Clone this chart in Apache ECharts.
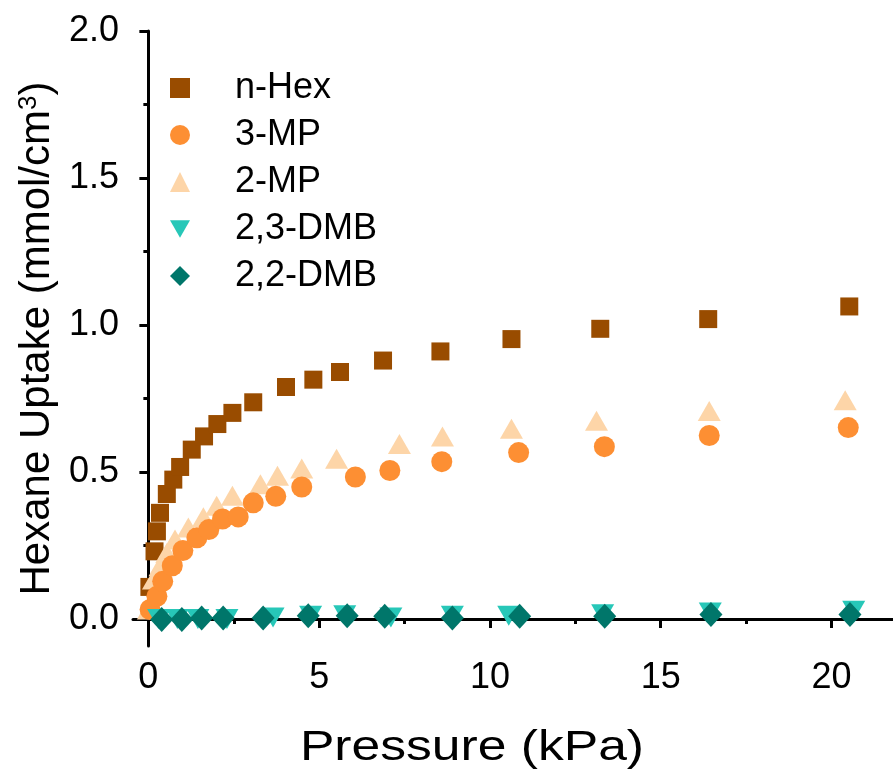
<!DOCTYPE html>
<html>
<head>
<meta charset="utf-8">
<script src="https://cdn.jsdelivr.net/npm/echarts@6/dist/echarts.min.js"></script>
<style>html,body{margin:0;padding:0;background:#fff}#c{width:893px;height:776px}</style>
</head>
<body>
<div id="c"></div>
<script>
// ---- data ----
var nHexP = [0.03, 0.18, 0.25, 0.34, 0.54, 0.73, 0.93, 1.27, 1.63, 2.02, 2.46, 3.07, 4.03, 4.83, 5.61, 6.87, 8.55, 10.63, 13.23, 16.39, 20.52];
var nHexV = [0.109, 0.230, 0.298, 0.361, 0.425, 0.474, 0.517, 0.576, 0.621, 0.663, 0.701, 0.737, 0.789, 0.814, 0.840, 0.879, 0.910, 0.952, 0.987, 1.020, 1.063];

var mp3P = [0.05, 0.25, 0.42, 0.70, 1.01, 1.42, 1.77, 2.17, 2.63, 3.07, 3.73, 4.49, 6.06, 7.07, 8.59, 10.84, 13.35, 16.42, 20.49];
var mp3V = [0.032, 0.077, 0.128, 0.181, 0.233, 0.276, 0.304, 0.340, 0.347, 0.395, 0.417, 0.449, 0.483, 0.505, 0.535, 0.566, 0.586, 0.624, 0.651];

var mp2P = [0.0, 0.15, 0.34, 0.54, 0.78, 1.17, 1.61, 2.0, 2.46, 3.28, 3.78, 4.49, 5.51, 7.35, 8.61, 10.63, 13.12, 16.42, 20.4];
var mp2V = [0.032, 0.134, 0.179, 0.224, 0.270, 0.311, 0.346, 0.385, 0.419, 0.458, 0.487, 0.512, 0.545, 0.595, 0.621, 0.647, 0.674, 0.707, 0.744];

var dmb23P = [0.3, 0.85, 1.45, 2.3, 3.65, 4.75, 5.75, 7.1, 8.9, 10.55, 13.3, 16.45, 20.65];
var dmb23V = [0.0, 0.0, 0.0, 0.0, 0.005, 0.011, 0.013, 0.005, 0.011, 0.011, 0.016, 0.022, 0.028];

var dmb22P = [0.39, 0.98, 1.56, 2.19, 3.36, 4.68, 5.82, 6.92, 8.9, 10.87, 13.36, 16.47, 20.54];
var dmb22V = [-0.002, -0.002, 0.003, 0.003, 0.003, 0.011, 0.011, 0.009, 0.003, 0.009, 0.009, 0.015, 0.015];

var xMajor = [0, 5, 10, 15, 20];
var xMinor = [2.5, 7.5, 12.5, 17.5];
var yMajor = [0, 0.5, 1.0, 1.5, 2.0];
var yMinor = [0.25, 0.75, 1.25, 1.75];

var names = ['n-Hex', '3-MP', '2-MP', '2,3-DMB', '2,2-DMB'];
var xTitle = 'Pressure (kPa)';

function pairs(xs, ys) { return xs.map(function (x, i) { return [x, ys[i]]; }); }

var FONT = 'Liberation Sans, Arial, sans-serif';
var chart = echarts.init(document.getElementById('c'), null, {renderer: 'canvas'});

var xBase = {min: -0.45, max: 21.8, type: 'value', position: 'bottom', splitLine: {show: false}};
var yBase = {min: -0.092, max: 2.0, type: 'value', position: 'left', splitLine: {show: false}};

chart.setOption({
  animation: false,
  backgroundColor: '#fff',
  grid: {left: 133, right: 0, top: 31, bottom: 130, outerBoundsMode: 'none', containLabel: false},
  legend: {
    orient: 'vertical', left: 165, top: 65,
    itemWidth: 20, itemHeight: 20, itemGap: 11,
    symbolKeepAspect: true,
    data: names,
    textStyle: {fontFamily: FONT, fontSize: 36, color: '#000', padding: [0, 0, 0, 40]}
  },
  graphic: [{
    type: 'text', x: 472, y: 748, scaleX: 1.2,
    style: {text: xTitle, fontFamily: FONT, fontSize: 43, fill: '#000', align: 'center', verticalAlign: 'middle'}
  }],
  xAxis: [
    Object.assign({}, xBase, {
      axisLine: {show: true, lineStyle: {color: '#000', width: 3}},
      axisTick: {show: true, customValues: xMajor, length: 9, lineStyle: {color: '#000', width: 3}},
      axisLabel: {customValues: xMajor, color: '#000', fontFamily: FONT, fontSize: 36, margin: 14}
    }),
    Object.assign({}, xBase, {
      axisLine: {show: false},
      axisTick: {show: true, customValues: xMinor, length: 5, lineStyle: {color: '#000', width: 3}},
      axisLabel: {show: false}
    })
  ],
  yAxis: [
    Object.assign({}, yBase, {
      axisLine: {show: true, lineStyle: {color: '#000', width: 3}},
      axisTick: {show: true, customValues: yMajor, length: 9, lineStyle: {color: '#000', width: 3}},
      axisLabel: {customValues: yMajor, color: '#000', fontFamily: FONT, fontSize: 36, margin: 14,
        formatter: function (v) { return v.toFixed(1); }},
      name: '{a|Hexane Uptake (mmol/cm}{s|3}{a|)}', nameLocation: 'middle', nameGap: 70, nameRotate: 90,
      nameTextStyle: {rich: {
        a: {fontFamily: FONT, fontSize: 42, color: '#000'},
        s: {fontFamily: FONT, fontSize: 26, color: '#000', verticalAlign: 'top', padding: [0, 0, 16, 0]}
      }}
    }),
    Object.assign({}, yBase, {
      axisLine: {show: false},
      axisTick: {show: true, customValues: yMinor, length: 5, lineStyle: {color: '#000', width: 3}},
      axisLabel: {show: false}
    })
  ],
  series: [
    {name: 'n-Hex', type: 'scatter', symbol: 'rect', symbolSize: 18,
     itemStyle: {color: '#994c00', opacity: 1}, data: pairs(nHexP, nHexV)},
    {name: '2-MP', type: 'scatter', symbol: 'triangle', symbolSize: [23, 20],
     itemStyle: {color: '#fdd5a8', opacity: 1}, data: pairs(mp2P, mp2V)},
    {name: '3-MP', type: 'scatter', symbol: 'circle', symbolSize: 21,
     itemStyle: {color: '#fd8f33', opacity: 1}, data: pairs(mp3P, mp3V)},
    {name: '2,3-DMB', type: 'scatter', symbol: 'path://M0,0 L2,0 L1,1.73 Z', symbolSize: [23, 20],
     itemStyle: {color: '#27c7b8', opacity: 1}, data: pairs(dmb23P, dmb23V)},
    {name: '2,2-DMB', type: 'scatter', symbol: 'diamond', symbolSize: [23, 25],
     itemStyle: {color: '#00766a', opacity: 1}, data: pairs(dmb22P, dmb22V)}
  ]
});
</script>
</body>
</html>
